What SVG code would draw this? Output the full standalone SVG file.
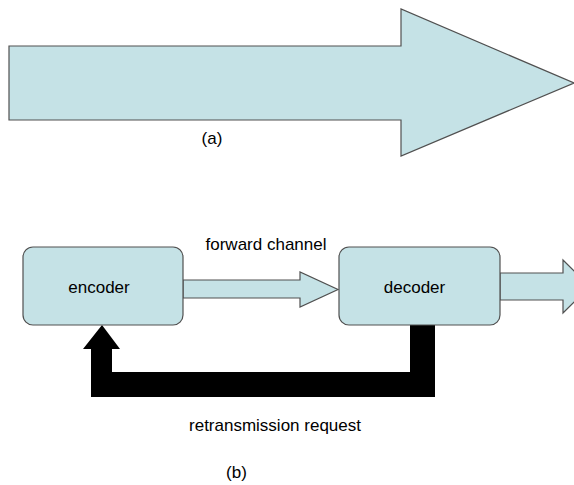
<svg xmlns="http://www.w3.org/2000/svg" width="574" height="485" viewBox="0 0 574 485">
<style>
.shape{fill:#c5e2e6;stroke:#505050;stroke-width:1.2}
.lbl{font-family:"Liberation Sans",Arial,sans-serif;font-size:17px;fill:#000}
</style>
<rect width="574" height="485" fill="#fff"/>
<g id="big-arrow">
<polygon class="shape" points="9,46 401,46 401,9 574,83 401,156 401,120 9,120"/>
<text class="lbl" x="212" y="144" text-anchor="middle">(a)</text>
</g>
<g id="connectors">
<polygon class="shape" points="183,280 300,280 300,272 338,289.5 300,307 300,298 183,298"/>
<text class="lbl" x="266" y="250" text-anchor="middle">forward channel</text>
<polygon class="shape" points="500,273 563,273 563,260 590,286.5 563,313 563,300 500,300"/>
<polygon fill="#000" points="410,325 435,325 435,397 91,397 91,349 83,349 102,325 120,349 112,349 112,372 410,372"/>
<text class="lbl" x="275" y="431" text-anchor="middle">retransmission request</text>
</g>
<g id="encoder">
<rect class="shape" x="23" y="247" width="160" height="78" rx="10"/>
<text class="lbl" x="99" y="293" text-anchor="middle">encoder</text>
</g>
<g id="decoder">
<rect class="shape" x="339" y="247" width="161" height="78" rx="10"/>
<text class="lbl" x="414.5" y="293" text-anchor="middle">decoder</text>
</g>
<text class="lbl" x="236.5" y="478" text-anchor="middle">(b)</text>
</svg>
